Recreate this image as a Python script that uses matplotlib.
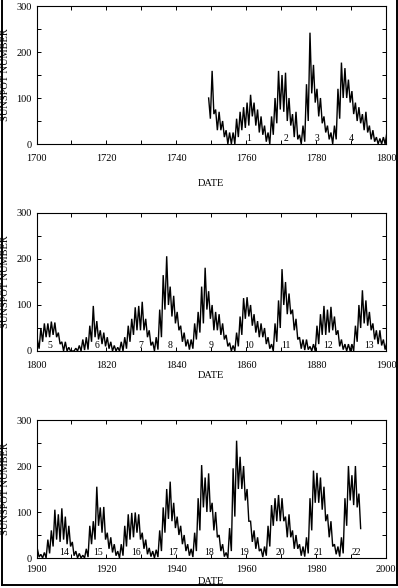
import numpy as np
import matplotlib
matplotlib.use("Agg")
import matplotlib.pyplot as plt
from matplotlib.lines import Line2D

# ---------------- data (yearly low / high of the monthly sunspot number) ----
years = np.arange(1749, 1993)
lo = [55, 65, 30, 30, 15, 0, 0, 0, 15, 30,          # 1749-1758
      35, 40, 60, 40, 25, 20, 5, 0, 20, 45,          # 1759-1768
      75, 70, 50, 40, 15, 10, 0, 5, 50, 110,         # 1769-1778
      90, 60, 45, 25, 10, 0, 10, 55, 100, 100,       # 1779-1788
      90, 65, 50, 45, 30, 25, 10, 5, 0, 0,           # 1789-1798
      0, 5, 20, 30, 30, 35, 30, 15, 0, 0,            # 1799-1808
      0, 0, 0, 0, 2, 3, 20, 30, 25, 15,              # 1809-1818
      10, 5, 0, 0, 0, 0, 5, 20, 35, 45,              # 1819-1828
      45, 45, 30, 12, 0, 3, 30, 90, 100, 75,         # 1829-1838
      60, 45, 20, 10, 3, 5, 25, 40, 60, 90,          # 1839-1848
      70, 45, 45, 35, 25, 10, 0, 0, 10, 35,          # 1849-1858
      70, 75, 55, 40, 30, 30, 15, 5, 0, 20,          # 1859-1868
      50, 100, 80, 80, 45, 25, 5, 2, 3, 0,           # 1869-1878
      0, 15, 35, 35, 40, 45, 35, 10, 3, 0,           # 1879-1888
      0, 0, 20, 50, 60, 55, 45, 25, 15, 12,          # 1889-1898
      3, 2, 0, 0, 10, 25, 40, 35, 40, 30,            # 1899-1908
      25, 5, 0, 0, 0, 2, 30, 40, 70, 55,             # 1909-1918
      40, 20, 12, 5, 0, 5, 25, 40, 45, 55,           # 1919-1928
      40, 20, 8, 3, 0, 2, 15, 55, 85, 80,            # 1929-1938
      65, 50, 30, 15, 5, 2, 15, 60, 110, 100,        # 1939-1948
      100, 60, 45, 15, 3, 0, 15, 90, 150, 150,       # 1949-1958
      125, 80, 35, 20, 15, 2, 5, 25, 70, 80,         # 1959-1968
      80, 80, 45, 45, 20, 20, 5, 3, 10, 60,          # 1969-1978
      120, 120, 105, 80, 45, 25, 8, 3, 10, 70,       # 1979-1988
      125, 115, 110, 64]                             # 1989-1992
hi = [100, 159, 75, 70, 50, 30, 25, 25, 55, 70,     # 1749-1758
      80, 90, 107, 90, 75, 60, 40, 25, 60, 100,      # 1759-1768
      159, 150, 155, 100, 65, 70, 20, 40, 130, 242,  # 1769-1778
      172, 120, 100, 60, 40, 25, 40, 120, 177, 165,  # 1779-1788
      140, 115, 90, 80, 65, 70, 40, 30, 15, 12,      # 1789-1798
      15, 25, 50, 60, 60, 64, 62, 40, 20, 20,        # 1799-1808
      8, 0, 6, 12, 25, 30, 55, 98, 65, 45,           # 1809-1818
      40, 30, 20, 12, 8, 20, 30, 55, 70, 95,         # 1819-1828
      98, 107, 70, 45, 20, 30, 90, 165, 206, 140,    # 1829-1838
      120, 85, 55, 40, 25, 25, 60, 85, 140, 181,     # 1839-1848
      130, 100, 85, 80, 60, 35, 18, 12, 40, 75,      # 1849-1858
      115, 117, 100, 80, 65, 60, 50, 30, 15, 60,     # 1859-1868
      110, 178, 150, 125, 90, 70, 30, 25, 25, 10,    # 1869-1878
      15, 55, 80, 98, 90, 96, 75, 45, 25, 15,        # 1879-1888
      15, 15, 55, 100, 132, 110, 85, 60, 45, 45,     # 1889-1898
      25, 20, 8, 12, 40, 60, 105, 95, 108, 90,       # 1899-1908
      70, 35, 15, 10, 6, 20, 70, 80, 155, 110,       # 1909-1918
      111, 55, 45, 30, 15, 30, 70, 95, 98, 99,       # 1919-1928
      95, 55, 40, 22, 15, 18, 60, 110, 150, 166,     # 1929-1938
      120, 90, 70, 50, 30, 20, 55, 130, 202, 175,    # 1939-1948
      184, 120, 100, 50, 30, 12, 65, 195, 255, 220,  # 1949-1958
      200, 150, 80, 60, 45, 20, 25, 70, 115, 130,    # 1959-1968
      137, 130, 90, 95, 60, 50, 30, 25, 45, 130,     # 1969-1978
      190, 185, 175, 155, 95, 80, 30, 25, 45, 130,   # 1979-1988
      200, 180, 200, 140]                            # 1989-1992

cycle_nums = [str(i) for i in range(1, 23)]
cycle_years = [1760.8, 1771.3, 1780.3, 1790.2, 1803.9, 1817.4, 1829.9,
               1838.3, 1849.9, 1860.9, 1871.4, 1883.5, 1895.1, 1907.9,
               1917.7, 1928.4, 1939.1, 1949.4, 1959.5, 1969.9, 1980.6,
               1991.6]
cycle_level = 11

panel_ranges = [(1700, 1800), (1800, 1900), (1900, 2000)]
xtick_labels = {0: ['1700', '1720', '1740', '1760', '1780', '1800'],
                1: ['1800', '1820', '1840', '1860', '1880', '1900'],
                2: ['1900', '1920', '1940', '1960', '1980', '2000']}
ytick_labels = ['0', '100', '200', '300']

# ---------------- series: high / low of every year in turn -----------------
t = np.column_stack([years + 0.25, years + 0.75]).ravel()
v = np.column_stack([np.array(hi, float), np.array(lo, float)]).ravel()

# ---------------- figure ---------------------------------------------------
W, H, DPI = 398, 588, 100
fig = plt.figure(figsize=(W / DPI, H / DPI), dpi=DPI)
serif = ['Liberation Serif', 'DejaVu Serif']
plt.rcParams['font.family'] = serif

def fx(px):
    return px / W

def fy(py):
    return 1 - py / H

left, right = 36.5, 386.0
tops = [6, 213, 420]
bottoms = [144, 351, 558]
xpad = [7.0, 7.0, 5.0]
date_y = [183.5, 375.0, 582.0]

for i, (x0, x1) in enumerate(panel_ranges):
    ax = fig.add_axes([fx(left), fy(bottoms[i]), fx(right) - fx(left),
                       fy(tops[i]) - fy(bottoms[i])])
    ax.plot(t, v, color='black', lw=1.0, solid_joinstyle='miter')
    ax.set_xlim(x0, x1)
    ax.set_ylim(0, 300)
    ax.set_xticks(np.arange(x0, x1 + 1, 20))
    ax.set_xticklabels(xtick_labels[i])
    ax.set_xticks(np.arange(x0 + 10, x1, 20), minor=True)
    ax.set_yticks([0, 100, 200, 300])
    ax.set_yticklabels(ytick_labels)
    ax.set_yticks([50, 150, 250], minor=True)
    for which in ('major', 'minor'):
        ax.tick_params(axis='both', which=which, direction='in', length=3,
                       width=0.7, top=True, right=True, labelsize=7.5)
    ax.tick_params(axis='x', which='major', pad=xpad[i])
    ax.tick_params(axis='y', which='major', pad=3.5)
    for s in ax.spines.values():
        s.set_linewidth(0.8)
    for num, yr in zip(cycle_nums, cycle_years):
        if x0 <= yr <= x1:
            ax.text(yr, cycle_level, num, ha='center', va='center',
                    fontsize=7, family=serif)
    fig.text(fx(5.5), fy((tops[i] + bottoms[i]) / 2), 'SUNSPOT NUMBER',
             rotation=90, ha='center', va='center', fontsize=7.5, family=serif)
    fig.text(fx((left + right) / 2), fy(date_y[i]), 'DATE',
             ha='center', va='center', fontsize=7.5, family=serif)

# outer frame of the page
for xs, ys in [([1.5, 1.5], [0, 585]), ([1.5, 396.5], [585, 585]),
               ([396.5, 396.5], [0, 585])]:
    fig.add_artist(Line2D([fx(x) for x in xs], [fy(y) for y in ys],
                          color='black', lw=1.4, transform=fig.transFigure))

fig.savefig('out.png', dpi=DPI)
